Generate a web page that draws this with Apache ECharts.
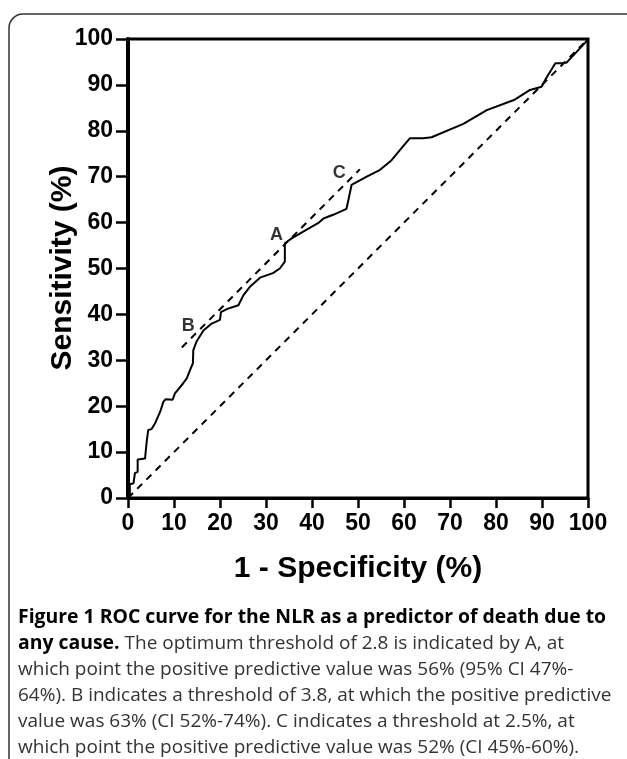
<!DOCTYPE html>
<html>
<head>
<meta charset="utf-8">
<script src="https://cdn.jsdelivr.net/npm/echarts@6/dist/echarts.min.js"></script>
<style>
html,body{margin:0;padding:0;background:#fff;}
#chart{width:627px;height:759px;}
</style>
</head>
<body>
<div id="chart"></div>
<script>
// ROC curve (1 - specificity %, sensitivity %)
const rocFpr = [0,0.4,0.4,1.2,1.5,2.1,2.1,3.7,4.1,4.4,5.1,5.9,7.0,7.7,8.2,9.7,10.2,10.8,12.0,12.8,13.5,14.1,14.2,14.9,16.4,18.2,20.0,20.2,21.6,24.0,25.1,26.5,28.7,31.5,33.0,34.1,34.1,35.5,38.0,41.5,42.5,44.6,47.5,48.6,51.9,54.8,57.3,59.1,61.3,64.2,66.0,72.9,78.0,83.9,87.4,89.9,90.7,92.9,94.3,94.7,95.4,99.4,100];
const rocTpr = [0,1.0,3.0,3.2,5.4,5.7,8.4,8.6,12.6,14.8,15.0,16.3,18.8,21.0,21.5,21.4,22.8,23.5,25.0,26.1,27.9,29.3,32.2,34.1,36.5,38.0,38.8,40.5,41.2,42.0,44.2,46.0,48.0,49.0,50.0,51.5,55.5,56.5,58.0,60.0,60.9,61.7,63.0,68.2,70.0,71.5,73.6,75.8,78.4,78.4,78.6,81.5,84.5,86.7,88.9,89.6,91.1,94.7,94.7,94.3,94.9,99.2,100];
// reference (chance) diagonal
const chanceX = [0, 100];
const chanceY = [0, 100];
// tangent line through thresholds B..C
const tangentX = [11.7, 50.4];
const tangentY = [32.8, 71.6];
// threshold labels
const markNames = ['A', 'B', 'C'];
const markX = [32.3, 13.1, 45.9];
const markY = [57.3, 37.5, 70.7];
// tick labels
const xTicks = [0,10,20,30,40,50,60,70,80,90,100];
const yTicks = [0,10,20,30,40,50,60,70,80,90,100];
const xTitle = '1 - Specificity (%)';
const yTitle = 'Sensitivity (%)';
const captionLines = [
  '{b|Figure 1 ROC curve for the NLR as a predictor of death due to}',
  '{b|any cause.} The optimum threshold of 2.8 is indicated by A, at',
  'which point the positive predictive value was 56% (95% CI 47%-',
  '64%). B indicates a threshold of 3.8, at which the positive predictive',
  'value was 63% (CI 52%-74%). C indicates a threshold at 2.5%, at',
  'which point the positive predictive value was 52% (CI 45%-60%).'
];

const zip = (a, b) => a.map((v, i) => [v, b[i]]);
const chart = echarts.init(document.getElementById('chart'), null, {renderer: 'canvas'});
const axisFont = {fontFamily: 'Liberation Sans', fontWeight: 'bold', fontSize: 23, color: '#000'};

const captionGraphics = captionLines.map((t, i) => ({
  type: 'text',
  left: 18,
  top: 608 + i * 26,
  style: {
    text: t,
    fontFamily: 'Open Sans',
    fontSize: 19,
    fill: '#333',
    rich: {b: {fontFamily: 'Open Sans', fontWeight: 'bold', fontSize: 19.4, fill: '#000', color: '#000'}}
  }
}));

chart.setOption({
  animation: false,
  grid: {left: 128, top: 39, width: 460, height: 459, show: true, borderColor: '#000', borderWidth: 3, backgroundColor: 'transparent'},
  xAxis: {
    type: 'value', min: 0, max: 100, interval: 10,
    axisLine: {show: true, onZero: false, lineStyle: {color: '#000', width: 3}},
    axisTick: {show: true, length: 10, lineStyle: {color: '#000', width: 2.5}},
    axisLabel: Object.assign({margin: 14, formatter: v => xTicks.includes(v) ? String(v) : ''}, axisFont),
    splitLine: {show: false}
  },
  yAxis: {
    type: 'value', min: 0, max: 100, interval: 10,
    axisLine: {show: true, onZero: false, lineStyle: {color: '#000', width: 4}},
    axisTick: {show: true, length: 12, lineStyle: {color: '#000', width: 2.5}},
    axisLabel: Object.assign({margin: 15, formatter: v => yTicks.includes(v) ? String(v) : ''}, axisFont),
    splitLine: {show: false}
  },
  series: [
    {type: 'line', data: zip(chanceX, chanceY), symbol: 'none', silent: true,
     lineStyle: {color: '#000', width: 2, type: [7, 6]}},
    {type: 'line', data: zip(tangentX, tangentY), symbol: 'none', silent: true,
     lineStyle: {color: '#000', width: 2, type: [7, 6]}},
    {type: 'line', data: zip(rocFpr, rocTpr), symbol: 'none', silent: true,
     lineStyle: {color: '#000', width: 2}},
    {type: 'scatter', symbolSize: 0, silent: true,
     data: markNames.map((n, i) => ({name: n, value: [markX[i], markY[i]]})),
     label: {show: true, position: 'inside', formatter: p => p.name,
             fontFamily: 'Liberation Sans', fontWeight: 'bold', fontSize: 18, color: '#000'}}
  ],
  graphic: [
    {type: 'rect', shape: {x: 9, y: 14, width: 640, height: 800, r: 14},
     style: {fill: 'none', stroke: '#333', lineWidth: 1.5}, z: -1},
    {type: 'text', x: 358, y: 569,
     style: {text: xTitle, fontFamily: 'Liberation Sans', fontWeight: 'bold', fontSize: 30, fill: '#000', align: 'center', verticalAlign: 'middle'}},
    {type: 'text', x: 63, y: 268, rotation: Math.PI / 2,
     style: {text: yTitle, fontFamily: 'Liberation Sans', fontWeight: 'bold', fontSize: 30, fill: '#000', align: 'center', verticalAlign: 'middle'}}
  ].concat(captionGraphics)
});
</script>
</body>
</html>
